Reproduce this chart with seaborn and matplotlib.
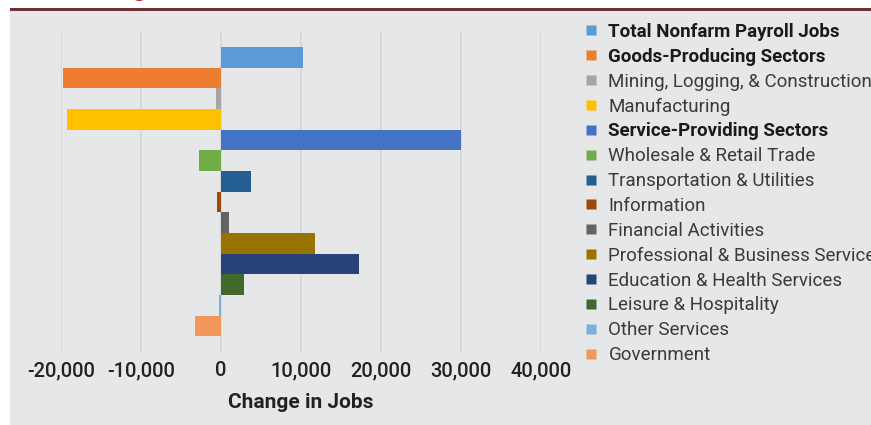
import matplotlib
matplotlib.use("Agg")
import matplotlib.pyplot as plt
from matplotlib.lines import Line2D
from matplotlib.patches import Rectangle
from matplotlib.ticker import FuncFormatter
import seaborn as sns
import pandas as pd

# Sectors, monthly change in jobs, and series colours
sectors = [
    "Total Nonfarm Payroll Jobs",
    "Goods-Producing Sectors",
    "Mining, Logging, & Construction",
    "Manufacturing",
    "Service-Providing Sectors",
    "Wholesale & Retail Trade",
    "Transportation & Utilities",
    "Information",
    "Financial Activities",
    "Professional & Business Services",
    "Education & Health Services",
    "Leisure & Hospitality",
    "Other Services",
    "Government",
]
changes = [10300, -19800, -600, -19300, 30000, -2700, 3700, -500, 1000,
           11800, 17300, 2900, -200, -3300]
colors = ["#5b9bd5", "#ed7d31", "#a5a5a5", "#ffc000", "#4472c4", "#70ad47",
          "#255e91", "#9e480e", "#636363", "#997300", "#264478", "#43682b",
          "#7cafdd", "#f1975a"]
bold_rows = {"Total Nonfarm Payroll Jobs", "Goods-Producing Sectors",
             "Service-Providing Sectors"}
x_ticks = [-20000, -10000, 0, 10000, 20000, 30000, 40000]
x_label = "Change in Jobs"

BG = "#e6e7e8"
GRID = "#d6d7d9"

sns.set_theme(style="white")
plt.rcParams["font.family"] = ["Roboto", "DejaVu Sans"]

W, H = 871, 425
fig = plt.figure(figsize=(W / 100, H / 100), dpi=100, facecolor="white")

# panel background and top rule
fig.patches.append(Rectangle((10 / W, 0), 1 - 10 / W, (H - 11) / H,
                             transform=fig.transFigure, facecolor=BG,
                             edgecolor="none", zorder=-2))
fig.patches.append(Rectangle((10 / W, (H - 11) / H), 1 - 10 / W, 3 / H,
                             transform=fig.transFigure, facecolor="#6e3034",
                             edgecolor="none", zorder=-1))
fig.text(140 / W, 1 + 5 / H, "g", color="#c8282e", fontsize=22,
         ha="center", va="baseline", fontweight="bold")

ax = fig.add_axes([61 / W, (H - 353) / H, 480 / W, 322 / H])
ax.set_facecolor("none")
ax.set_zorder(1)

df = pd.DataFrame({"sector": sectors, "change": changes})
sns.barplot(data=df, x="change", y="sector", hue="sector",
            palette=dict(zip(sectors, colors)), width=1.0, saturation=1,
            dodge=False, legend=False, orient="h", ax=ax, zorder=3,
            linewidth=0, edgecolor="none")

ax.set_xlim(-20000, 40000)
ax.set_ylim(13.5 + 0.8, -0.5 - 0.78)
ax.set_xticks(x_ticks)
ax.xaxis.set_major_formatter(FuncFormatter(lambda v, p: f"{int(v):,}"))
ax.grid(axis="x", color=GRID, linewidth=1.3, zorder=0)
ax.grid(axis="y", visible=False)
ax.set_axisbelow(True)
ax.set_yticks([])
ax.set_ylabel("")
for s in ax.spines.values():
    s.set_visible(False)
ax.tick_params(axis="x", length=0, pad=6, labelsize=14.5, labelcolor="#222222")
for t in ax.get_xticklabels():
    t.set_fontweight("medium")
ax.set_xlabel(x_label, fontsize=15, fontweight="bold", color="#222222", labelpad=9)

handles = [Line2D([0], [0], marker="s", linestyle="none", markersize=6.5,
                  markerfacecolor=c, markeredgecolor="none") for c in colors]
leg = fig.legend(handles, sectors, loc="upper left",
                 bbox_to_anchor=(585 / W, 1 - 23 / H), frameon=False,
                 fontsize=13.5, handlelength=0.6, handletextpad=0.65,
                 labelspacing=0.365, borderaxespad=0, borderpad=0)
for txt in leg.get_texts():
    if txt.get_text() in bold_rows:
        txt.set_fontweight("bold")
        txt.set_color("#1a1a1a")
    else:
        txt.set_color("#3a3a3a")

fig.savefig("out.png", dpi=100, facecolor="white")
